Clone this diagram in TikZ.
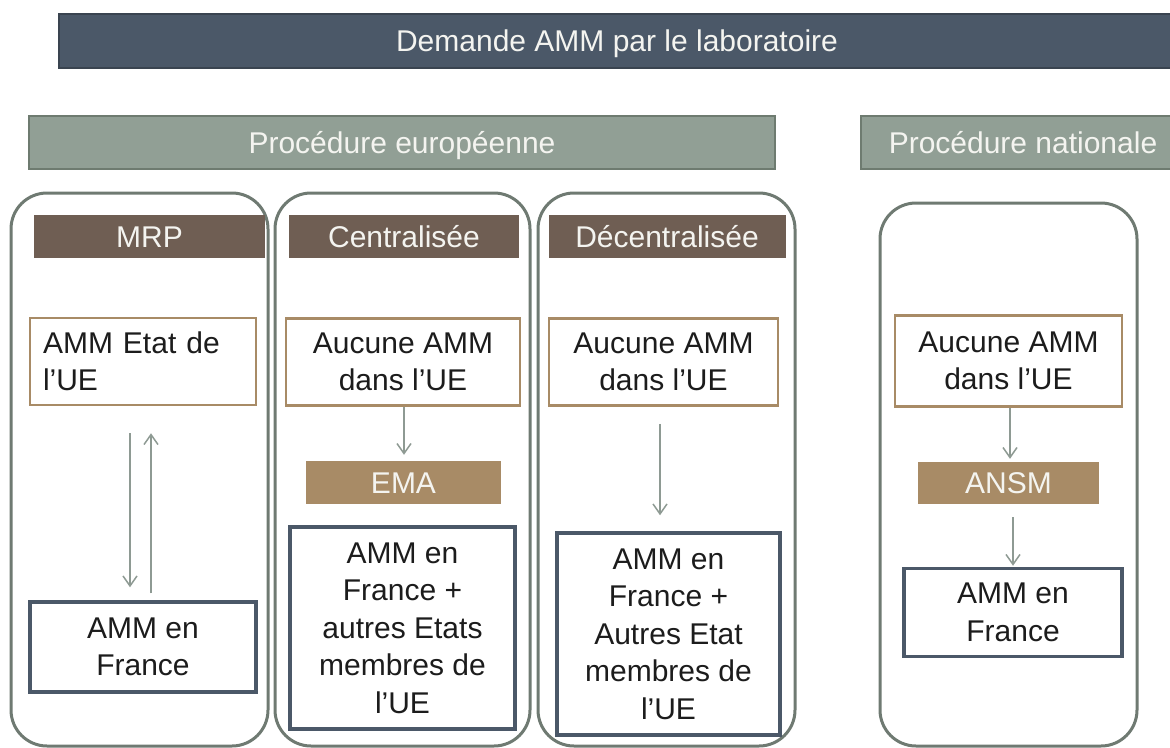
\documentclass[tikz,border=0pt]{standalone}
\usepackage{fontspec}
\setmainfont{Liberation Sans}
\usetikzlibrary{arrows.meta}
\definecolor{slatefill}{HTML}{4B5868}
\definecolor{slatedraw}{HTML}{3A4450}
\definecolor{sagefill}{HTML}{919F95}
\definecolor{sagedraw}{HTML}{6E7B70}
\definecolor{panelline}{HTML}{6F7A72}
\definecolor{brownfill}{HTML}{6F5E53}
\definecolor{tanfill}{HTML}{A88B66}
\definecolor{arrowcol}{HTML}{8E9A93}
\definecolor{inktext}{HTML}{1C1C1C}
\definecolor{lighttext}{HTML}{F4F4F0}
\tikzset{
  base/.style={inner sep=0pt, align=center, font=\fontsize{30}{37.5}\selectfont},
  oneline/.style={text height=21.5pt, text depth=0pt},
  topbar/.style={base, oneline, fill=slatefill, draw=slatedraw, line width=2pt, text=lighttext},
  procbar/.style={base, oneline, fill=sagefill, draw=sagedraw, line width=2pt, text=lighttext},
  panel/.style={draw=panelline, line width=3pt, rounded corners=36pt, inner sep=0pt},
  headbox/.style={base, oneline, fill=brownfill, text=lighttext},
  agency/.style={base, oneline, fill=tanfill, text=lighttext},
  startbox/.style={base, draw=tanfill, line width=2.5pt, fill=white, text=inktext},
  endbox/.style={base, draw=slatefill, line width=3.5pt, fill=white, text=inktext},
  arr/.style={draw=arrowcol, line width=1.5pt, -{Straight Barb[length=10pt,width=14pt,line width=1.5pt]}}
}
\begin{document}
\begin{tikzpicture}[x=1pt,y=-1pt]
\useasboundingbox (0,0) rectangle (1170,747);
\fill[white] (0,0) rectangle (1170,747);

% top bars
\node[topbar, minimum width=1116pt, minimum height=54pt] (demande) at (617,41) {Demande AMM par le laboratoire};
\node[procbar, minimum width=746pt, minimum height=53pt] (euro) at (402,142.5) {Procédure européenne};
\node[procbar, minimum width=324pt, minimum height=53pt] (nat) at (1023,142.5) {Procédure nationale};

% panels
\node[panel, minimum width=257pt, minimum height=553pt] (p1) at (139.5,469.5) {};
\node[panel, minimum width=255pt, minimum height=553pt] (p2) at (402.5,469.5) {};
\node[panel, minimum width=257pt, minimum height=553pt] (p3) at (666.5,469.5) {};
\node[panel, minimum width=257pt, minimum height=543pt] (p4) at (1008.5,474.5) {};

% headers
\node[headbox, minimum width=231pt, minimum height=43pt] (mrp) at (149.5,236.5) {MRP};
\node[headbox, minimum width=230pt, minimum height=43pt] (cen) at (404,236.5) {Centralisée};
\node[headbox, minimum width=237pt, minimum height=43pt] (dec) at (667,236.5) {Décentralisée};

% MRP
\node[startbox, text width=200pt, inner xsep=13pt, align=left, minimum height=87pt] (mrpA) at (143,361.5) {AMM Etat de\\l’UE};
\node[endbox, minimum width=226pt, minimum height=90pt] (mrpB) at (143,647) {AMM en\\France};
\draw[arr] ([xshift=-13pt,yshift=-27pt]mrpA.south) -- ([xshift=-13pt,yshift=13pt]mrpB.north);
\draw[arr] ([xshift=8pt,yshift=7pt]mrpB.north) -- ([xshift=8pt,yshift=-27pt]mrpA.south);

% Centralisee
\node[startbox, minimum width=234pt, minimum height=87pt] (cenA) at (403,362) {Aucune AMM\\dans l’UE};
\node[agency, minimum width=195pt, minimum height=43pt] (ema) at (403.5,482.5) {EMA};
\node[endbox, minimum width=225pt, minimum height=202pt] (cenB) at (402.5,628) {AMM en\\France +\\autres Etats\\membres de\\l’UE};
\draw[arr] ([xshift=1pt]cenA.south) -- ([xshift=0.5pt,yshift=6pt]ema.north);

% Decentralisee
\node[startbox, minimum width=229pt, minimum height=87pt] (decA) at (663.5,362) {Aucune AMM\\dans l’UE};
\node[endbox, minimum width=223pt, minimum height=202pt] (decB) at (668.5,634) {AMM en\\France +\\Autres Etat\\membres de\\l’UE};
\draw[arr] ([xshift=-3.5pt,yshift=-17pt]decA.south) -- ([xshift=-8.5pt,yshift=16pt]decB.north);

% Nationale
\node[startbox, minimum width=227pt, minimum height=91pt] (natA) at (1008.5,361) {Aucune AMM\\dans l’UE};
\node[agency, minimum width=181pt, minimum height=42pt] (ansm) at (1008.5,483) {ANSM};
\node[endbox, minimum width=218pt, minimum height=88pt] (natB) at (1013,612.5) {AMM en\\France};
\draw[arr] ([xshift=1.5pt]natA.south) -- ([xshift=1.5pt,yshift=3pt]ansm.north);
\draw[arr] ([xshift=4.5pt,yshift=-13pt]ansm.south) -- ([yshift=1pt]natB.north);
\end{tikzpicture}
\end{document}
